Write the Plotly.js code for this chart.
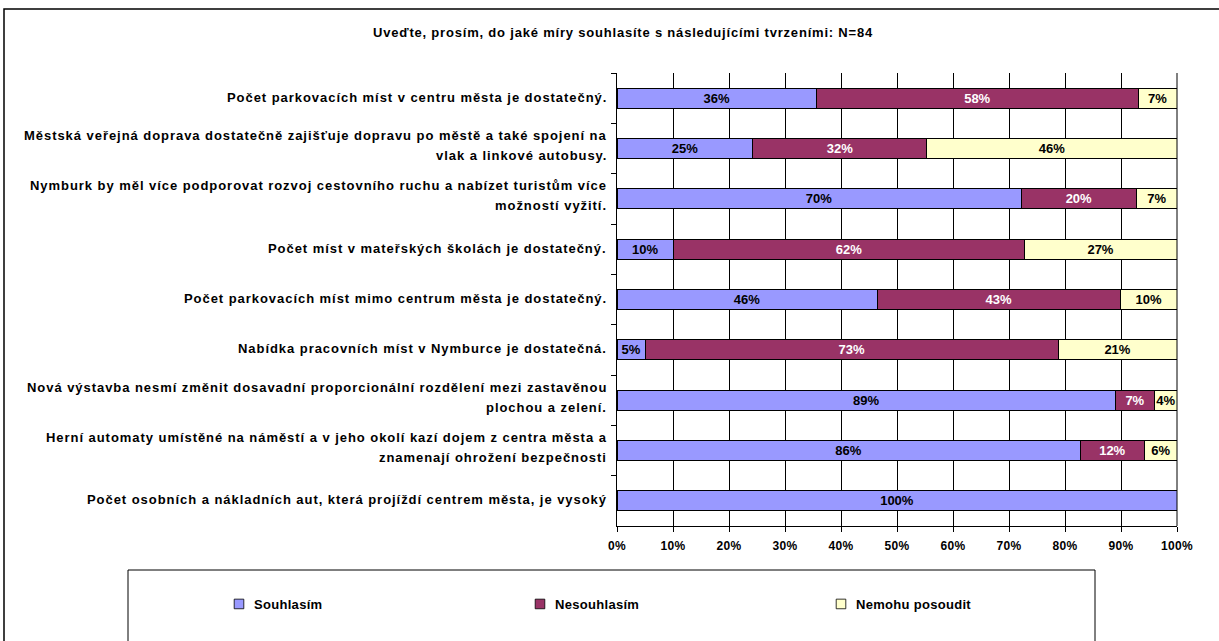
<!DOCTYPE html>
<html>
<head>
<meta charset="utf-8">
<script src="https://cdn.plot.ly/plotly-3.0.1.min.js"></script>
<style>
html,body{margin:0;padding:0;background:#fff;}
#chart{width:1219px;height:641px;}
text.annotation-text{letter-spacing:0.95px;}
text.gtitle{letter-spacing:0.8px;}
text.legendtext{letter-spacing:0.3px;translate:-9px 0;}
.xtick text{letter-spacing:0.3px;}
.legendpoints path{transform-box:fill-box;transform-origin:center;scale:0.8;}
</style>
</head>
<body>
<div id="chart"></div>
<script>
const categories = [
  "Počet parkovacích míst v centru města je dostatečný.",
  "Městská veřejná doprava dostatečně zajišťuje dopravu po městě a také spojení na\nvlak a linkové autobusy.",
  "Nymburk by měl více podporovat rozvoj cestovního ruchu a nabízet turistům více\nmožností vyžití.",
  "Počet míst v mateřských školách je dostatečný.",
  "Počet parkovacích míst mimo centrum města je dostatečný.",
  "Nabídka pracovních míst v Nymburce je dostatečná.",
  "Nová výstavba nesmí změnit dosavadní proporcionální rozdělení mezi zastavěnou\nplochou a zelení.",
  "Herní automaty umístěné na náměstí a v jeho okolí kazí dojem z centra města a\nznamenají ohrožení bezpečnosti",
  "Počet osobních a nákladních aut, která projíždí centrem města, je vysoký"
];
const seriesNames = ["Souhlasím", "Nesouhlasím", "Nemohu posoudit"];
const souhlasim   = [36, 25, 70, 10, 46, 5, 89, 86, 100];
const nesouhlasim = [58, 32, 20, 62, 43, 73, 7, 12, 0];
const nemohu      = [7, 46, 7, 27, 10, 21, 4, 6, 0];
const xTickVals = [0,10,20,30,40,50,60,70,80,90,100];
const titleText = "Uveďte, prosím, do jaké míry souhlasíte s následujícími tvrzeními: N=84";

const W = 1219, H = 641;
const M = {l: 617, r: 42, t: 73, b: 115};
const pw = W - M.l - M.r, ph = H - M.t - M.b;
const px2x = p => (p - M.l) / pw;
const py2y = p => (H - M.b - p) / ph;

const FONT = "Liberation Sans, Arial, sans-serif";
const colors = ["#9999FF", "#993366", "#FFFFCC"];
const textColors = ["#000000", "#FFFFFF", "#000000"];
const seriesVals = [souhlasim, nesouhlasim, nemohu];
const ids = categories.map((c, i) => "c" + i);

const traces = seriesVals.map((vals, k) => ({
  type: "bar",
  orientation: "h",
  name: seriesNames[k],
  y: ids,
  x: vals,
  text: vals.map(v => v > 0 ? v + "%" : ""),
  textposition: "inside",
  insidetextanchor: "middle",
  textangle: 0,
  constraintext: "none",
  textfont: {family: FONT, size: 13, color: textColors[k], weight: "bold"},
  marker: {color: colors[k], line: {color: "#000", width: 1}},
  hoverinfo: "skip"
}));

const annotations = [];
categories.forEach((c, i) => {
  const lines = c.split("\n");
  const n = lines.length;
  lines.forEach((ln, j) => {
    annotations.push({
      xref: "paper", yref: "y", x: px2x(609), y: ids[i],
      xanchor: "right", yanchor: "middle", align: "right",
      text: ln, showarrow: false,
      yshift: ((n - 1) / 2 - j) * 20 + (n > 1 ? 2 : 0) + 1,
      font: {family: FONT, size: 13, color: "#000", weight: "bold"}
    });
  });
});

const layout = {
  width: W, height: H,
  margin: M,
  paper_bgcolor: "#fff", plot_bgcolor: "#fff",
  barmode: "stack", barnorm: "percent",
  bargap: 0.6,
  font: {family: FONT, size: 12, color: "#000"},
  title: {text: "<b>" + titleText + "</b>", x: 623 / W, xref: "container", y: 1 - 32 / H, yref: "container", yanchor: "middle",
          font: {family: FONT, size: 13, color: "#000"}},
  xaxis: {range: [0, 100], tickvals: xTickVals, ticktext: xTickVals.map(v => v + "%"),
          showgrid: true, gridcolor: "#000", gridwidth: 1, zeroline: false,
          showline: true, linecolor: "#000", linewidth: 1, ticks: "outside", ticklen: 5, tickcolor: "#000",
          ticklabelstandoff: 4,
          tickfont: {family: FONT, size: 12, color: "#000", weight: "bold"}, fixedrange: true},
  yaxis: {type: "category", categoryarray: ids, autorange: "reversed", showticklabels: false,
          showline: true, linecolor: "#000", linewidth: 1, ticks: "outside", ticklen: 5, tickcolor: "#000",
          tickson: "boundaries", showgrid: false, zeroline: false, fixedrange: true},
  showlegend: true,
  legend: {orientation: "h", x: px2x(223), xanchor: "left", y: py2y(604), yanchor: "middle",
           entrywidth: 256, entrywidthmode: "pixels", traceorder: "normal",
           font: {family: FONT, size: 13, color: "#000", weight: "bold"}, bgcolor: "rgba(0,0,0,0)"},
  annotations: annotations,
  shapes: [
    {type: "rect", xref: "paper", yref: "paper", x0: px2x(4), x1: px2x(1230), y0: py2y(660), y1: py2y(9),
     line: {color: "#000", width: 1.5}, fillcolor: "rgba(0,0,0,0)", layer: "below"},
    {type: "rect", xref: "paper", yref: "paper", x0: px2x(128), x1: px2x(1095), y0: py2y(660), y1: py2y(570),
     line: {color: "#000", width: 1}, fillcolor: "rgba(0,0,0,0)", layer: "below"},
    {type: "line", xref: "paper", yref: "paper", x0: 1, x1: 1, y0: 0, y1: 1, line: {color: "#000", width: 1}}
  ]
};

Plotly.newPlot("chart", traces, layout, {displayModeBar: false, staticPlot: true});
</script>
</body>
</html>
